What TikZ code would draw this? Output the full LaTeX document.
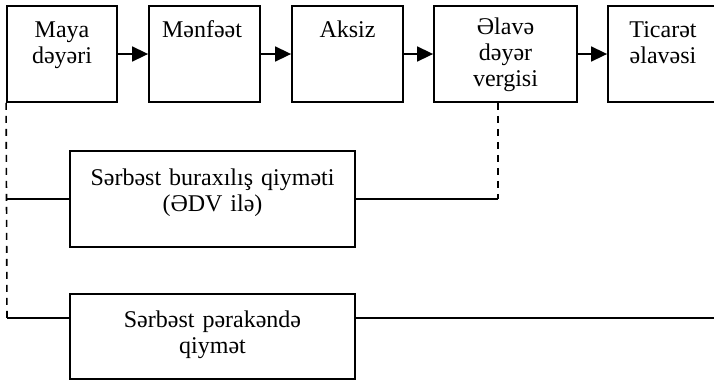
\documentclass[tikz,border=0pt]{standalone}
\usepackage{fontspec}
\setmainfont{Liberation Serif}
\usetikzlibrary{arrows.meta}
\begin{document}
\begin{tikzpicture}[x=0.5pt,y=-0.5pt,
  box/.style={draw,line width=0.9pt,inner sep=0pt,minimum height=48pt},
  txt/.style={anchor=base,align=center,inner sep=0pt,font=\fontsize{12pt}{13pt}\selectfont},
  conn/.style={line width=0.8pt},
  dsh/.style={line width=0.8pt,dash pattern=on 3.5pt off 3pt},
  arr/.style={line width=0.8pt,-{Triangle[length=8pt,width=7.5pt]}}]
\useasboundingbox (0,0) rectangle (714,381);
% top row boxes
\node[box,minimum width=55pt] (b1) at (62,54) {};
\node[box,minimum width=55.5pt] (b2) at (204.5,54) {};
\node[box,minimum width=55.5pt] (b3) at (347.5,54) {};
\node[box,minimum width=71.5pt] (b4) at (505.5,54) {};
\node[box,minimum width=55pt] (b5) at (663,54) {};
% lower boxes
\node[box,minimum width=142.5pt] (b6) at (212.5,199) {};
\node[box,minimum width=142.5pt,minimum height=42.5pt] (b7) at (212.5,336.5) {};
% texts
\node[txt,text width=55pt] (t1) at (62,37) {Maya\\dəyəri};
\node[txt,text width=55pt] (t2) at (202,37) {Mənfəət};
\node[txt,text width=55pt] (t3) at (347.5,37) {Aksiz};
\node[txt,text width=70pt] (t4) at (505.5,34) {Əlavə\\dəyər\\vergisi};
\node[txt,text width=55pt] (t5) at (663,37) {Ticarət\\əlavəsi};
\node[txt,text width=140pt] (t6) at (212.5,185) {Sərbəst buraxılış qiyməti\\(ƏDV ilə)};
\node[txt,text width=140pt] (t7) at (212.5,327) {Sərbəst pərakəndə\\qiymət};
% arrows
\draw[arr] (b1) -- (b2);
\draw[arr] (b2) -- (b3);
\draw[arr] (b3) -- (b4);
\draw[arr] (b4) -- (b5);
% connectors
\coordinate (c7) at (7,318);
\coordinate (c4) at (498,199);
\coordinate (e7) at (716,318);
\draw[dsh] (b1.south west) -- (c7);
\draw[conn] (c7) -- (b7.west |- c7);
\draw[conn] (b6.west -| c7) -- (b6.west);
\draw[dsh] (c4 |- b4.south) -- (c4);
\draw[conn] (c4) -- (b6.east);
\draw[conn] (b7.east |- c7) -- (e7);
\end{tikzpicture}
\end{document}
